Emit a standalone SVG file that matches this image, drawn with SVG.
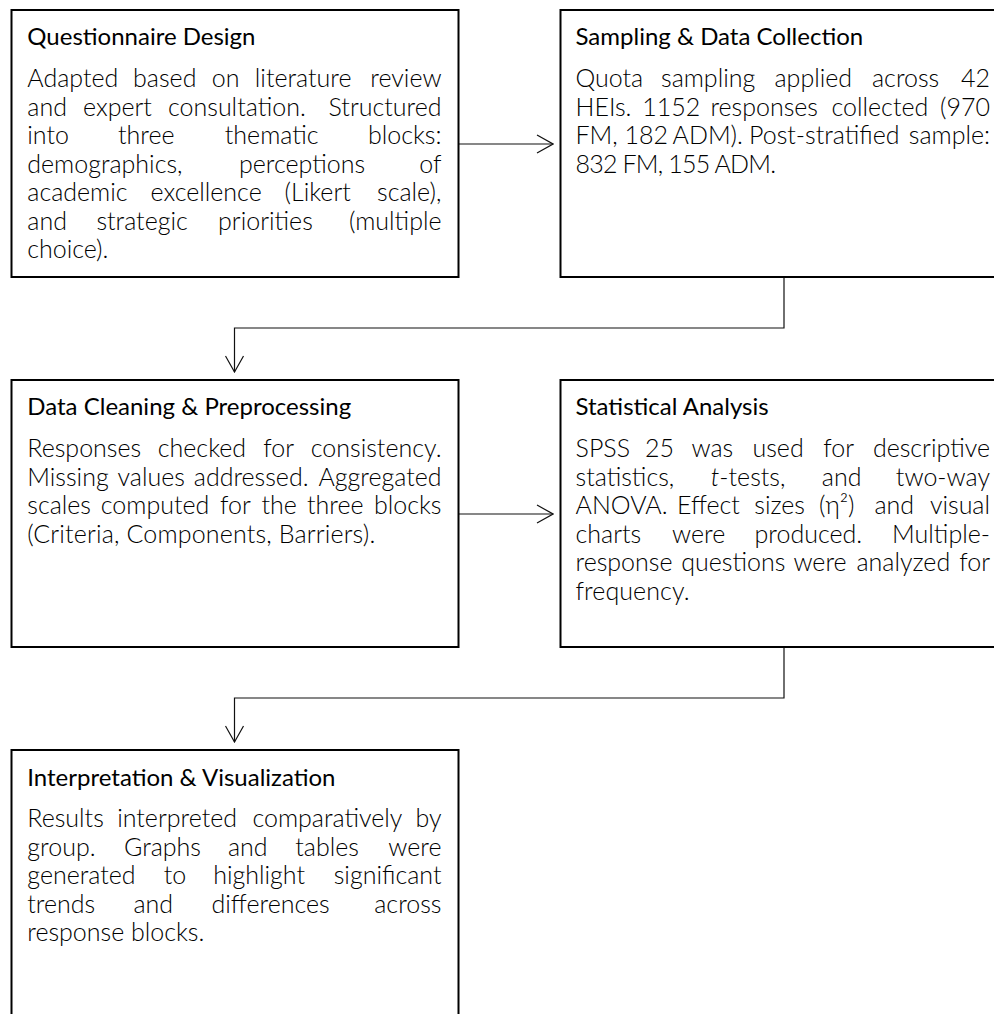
<svg xmlns="http://www.w3.org/2000/svg" width="994" height="1014" viewBox="0 0 994 1014">
<style>
.box{fill:#fff;stroke:#000;stroke-width:2}
.ttl{font-family:Lato,"Liberation Sans",sans-serif;font-size:24px;font-weight:400;fill:#000}
.b{font-family:Lato,"Liberation Sans",sans-serif;font-size:25px;font-weight:300;fill:#000}
.e{text-anchor:end}
.conn{fill:none;stroke:#111;stroke-width:1.2}
</style>
<defs>
<marker id="arr" markerUnits="userSpaceOnUse" viewBox="0 0 18 20" markerWidth="18" markerHeight="20" refX="17" refY="10" orient="auto">
<path d="M1,1 L17,10 L1,19" fill="none" stroke="#111" stroke-width="1.2"/>
</marker>
</defs>
<rect width="994" height="1014" fill="#fff"/>

<g id="connectors">
<path class="conn" d="M459,144 H553" marker-end="url(#arr)"/>
<path class="conn" d="M784,277 V328 H234.5 V372" marker-end="url(#arr)"/>
<path class="conn" d="M459,514 H553" marker-end="url(#arr)"/>
<path class="conn" d="M784,647 V698 H234.5 V742" marker-end="url(#arr)"/>
</g>

<g id="questionnaire-design">
<rect class="box" x="11.5" y="10" width="447" height="267"/>
<text class="ttl" x="27.3" y="45">Questionnaire Design</text>
<text class="b" y="87"><tspan x="27.3">Adapted</tspan><tspan x="133.1">based</tspan><tspan x="211.7">on</tspan><tspan x="254.8">literature</tspan></text>
<text class="b e" x="441.5" y="87">review</text>
<text class="b" y="115.5"><tspan x="27.3">and</tspan><tspan x="83">expert</tspan><tspan x="168">consultation.</tspan></text>
<text class="b e" x="441.5" y="115.5">Structured</text>
<text class="b" y="144"><tspan x="27.3">into</tspan><tspan x="118">three</tspan><tspan x="224.8">thematic</tspan></text>
<text class="b e" x="441.5" y="144">blocks:</text>
<text class="b" y="172.5"><tspan x="27.3">demographics,</tspan><tspan x="239">perceptions</tspan></text>
<text class="b e" x="441.5" y="172.5">of</text>
<text class="b" y="201"><tspan x="27.3">academic</tspan><tspan x="150.6">excellence</tspan><tspan x="284.6">(Likert</tspan></text>
<text class="b e" x="441.5" y="201">scale),</text>
<text class="b" y="229.5"><tspan x="27.3">and</tspan><tspan x="96.4">strategic</tspan><tspan x="218">priorities</tspan></text>
<text class="b e" x="441.5" y="229.5">(multiple</text>
<text class="b" x="27.3" y="258" textLength="81">choice).</text>
</g>

<g id="sampling-data-collection">
<rect class="box" x="560.5" y="10" width="450" height="267"/>
<text class="ttl" x="575.5" y="45">Sampling &amp; Data Collection</text>
<text class="b" y="87"><tspan x="575.5">Quota</tspan><tspan x="661">sampling</tspan><tspan x="774.5">applied</tspan><tspan x="872">across</tspan></text>
<text class="b e" x="990" y="87">42</text>
<text class="b" y="115.5"><tspan x="575.5">HEIs.</tspan><tspan x="642.2">1152</tspan><tspan x="710.4">responses</tspan><tspan x="831.5">collected</tspan></text>
<text class="b e" x="990" y="115.5">(970</text>
<text class="b" y="144"><tspan x="575.5">FM,</tspan><tspan x="624.6">182</tspan><tspan x="672.5">ADM).</tspan><tspan x="749">Post-stratified</tspan></text>
<text class="b e" x="990" y="144">sample:</text>
<text class="b" x="575.5" y="172.5" textLength="200.5">832 FM, 155 ADM.</text>
</g>

<g id="data-cleaning-preprocessing">
<rect class="box" x="11.5" y="380" width="447" height="267"/>
<text class="ttl" x="27.3" y="415">Data Cleaning &amp; Preprocessing</text>
<text class="b" y="457"><tspan x="27.3">Responses</tspan><tspan x="157.8">checked</tspan><tspan x="263.3">for</tspan></text>
<text class="b e" x="441.5" y="457">consistency.</text>
<text class="b" y="485.5"><tspan x="27.3">Missing</tspan><tspan x="117.5">values</tspan><tspan x="193.8">addressed.</tspan></text>
<text class="b e" x="441.5" y="485.5">Aggregated</text>
<text class="b" y="514"><tspan x="27.3">scales</tspan><tspan x="100.8">computed</tspan><tspan x="220">for</tspan><tspan x="261.4">the</tspan><tspan x="307">three</tspan></text>
<text class="b e" x="441.5" y="514">blocks</text>
<text class="b" x="27.3" y="542.5" textLength="348">(Criteria, Components, Barriers).</text>
</g>

<g id="statistical-analysis">
<rect class="box" x="560.5" y="380" width="450" height="267"/>
<text class="ttl" x="575.5" y="415">Statistical Analysis</text>
<text class="b" y="457"><tspan x="575.5">SPSS</tspan><tspan x="644.9">25</tspan><tspan x="691.4">was</tspan><tspan x="752.5">used</tspan><tspan x="823.3">for</tspan></text>
<text class="b e" x="990" y="457">descriptive</text>
<text class="b" y="485.5"><tspan x="575.5">statistics,</tspan><tspan x="710.8" font-style="italic">t</tspan><tspan>-tests,</tspan><tspan x="821.8">and</tspan></text>
<text class="b e" x="990" y="485.5">two-way</text>
<text class="b" y="514"><tspan x="575.5">ANOVA.</tspan><tspan x="677">Effect</tspan><tspan x="754.3">sizes</tspan><tspan x="819">(η²)</tspan><tspan x="874.5">and</tspan></text>
<text class="b e" x="990" y="514">visual</text>
<text class="b" y="542.5"><tspan x="575.5">charts</tspan><tspan x="672">were</tspan><tspan x="754.5">produced.</tspan></text>
<text class="b e" x="990" y="542.5">Multiple-</text>
<text class="b" y="571"><tspan x="575.5">response</tspan><tspan x="681.3">questions</tspan><tspan x="793.4">were</tspan><tspan x="856.5">analyzed</tspan></text>
<text class="b e" x="990" y="571">for</text>
<text class="b" x="575.5" y="599.5" textLength="114">frequency.</text>
</g>

<g id="interpretation-visualization">
<rect class="box" x="11.5" y="750" width="447" height="300"/>
<text class="ttl" x="27.3" y="785.5">Interpretation &amp; Visualization</text>
<text class="b" y="827"><tspan x="27.3">Results</tspan><tspan x="117.2">interpreted</tspan><tspan x="252.4">comparatively</tspan></text>
<text class="b e" x="441.5" y="827">by</text>
<text class="b" y="855.5"><tspan x="27.3">group.</tspan><tspan x="124">Graphs</tspan><tspan x="228">and</tspan><tspan x="295.3">tables</tspan></text>
<text class="b e" x="441.5" y="855.5">were</text>
<text class="b" y="884"><tspan x="27.3">generated</tspan><tspan x="163.7">to</tspan><tspan x="213.2">highlight</tspan></text>
<text class="b e" x="441.5" y="884">significant</text>
<text class="b" y="912.5"><tspan x="27.3">trends</tspan><tspan x="133.5">and</tspan><tspan x="211.5">differences</tspan></text>
<text class="b e" x="441.5" y="912.5">across</text>
<text class="b" x="27.3" y="941" textLength="177">response blocks.</text>
</g>
</svg>
